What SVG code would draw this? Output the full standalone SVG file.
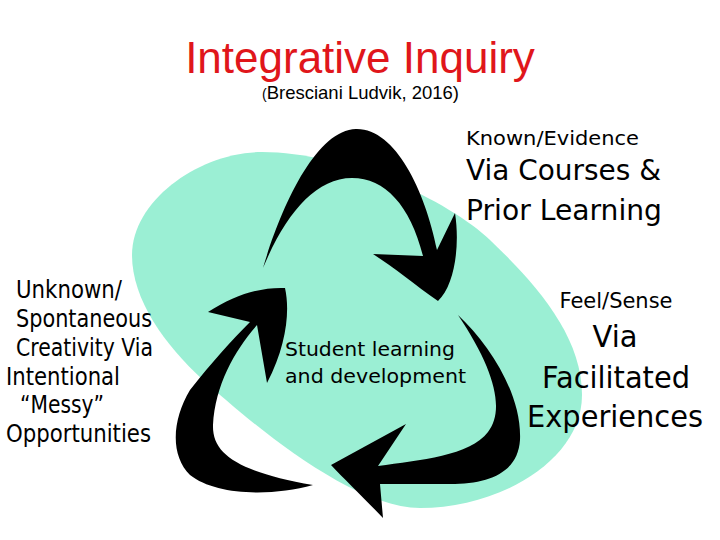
<svg xmlns="http://www.w3.org/2000/svg" width="720" height="540" viewBox="0 0 720 540">
<style>
.t{font-family:"DejaVu Sans","Liberation Sans",sans-serif;fill:#000}
.ttl{font-family:"Liberation Sans",Arial,sans-serif}
.arr{fill:#000;stroke:none}
</style>
<rect width="720" height="540" fill="#fff"/>
<g id="blob">
<path d="M262,152 C345,152 448,200 490,240 C535,283 582,335 582,395 C582,460 500,508 420,508 C350,508 248,420 203,380 C165,345 132,300 132,255 C132,200 200,152 262,152 Z" fill="#9BEFD4"/>
</g>
<g id="title">
<text class="ttl" x="360" y="73" font-size="44" fill="#E0161B" text-anchor="middle">Integrative Inquiry</text>
<text class="ttl" x="262" y="99" font-size="18.5" fill="#000"><tspan font-size="14">(</tspan>Bresciani Ludvik, 2016)</text>
</g>
<g id="connectors">
<path class="arr" d="M263,268 C280,210 315,130 356,129 C395,128 425,190 437,250 L455,213 C460,245 455,285 438,301 C415,285 395,268 373,254 L423,256 C410,205 385,178 352,178 C315,178 285,215 263,268 Z"/>
<path class="arr" d="M458,315 C490,345 522,395 520,440 C518,472 490,484 450,484 L380,484 L383,518 C365,499 345,480 331,465 L406,424 L378,466 C420,460 470,456 488,432 C505,410 495,370 458,315 Z"/>
<path class="arr" d="M313,485 C270,497 215,495 190,475 C170,455 172,420 190,390 C212,362 232,340 250,322 L208,312 C235,295 260,287 285,288 C290,310 287,345 267,383 L257,325 C235,350 215,385 213,425 C212,455 240,472 313,485 Z"/>
</g>
<g id="center">
<text class="t" x="285" y="355.5" font-size="20" textLength="170" lengthAdjust="spacingAndGlyphs">Student learning</text>
<text class="t" x="285" y="382.5" font-size="20" textLength="181" lengthAdjust="spacingAndGlyphs">and development</text>
</g>
<g id="known">
<text class="t" x="466" y="145" font-size="20" textLength="173" lengthAdjust="spacingAndGlyphs">Known/Evidence</text>
<text class="t" x="466" y="180" font-size="28.5" textLength="195" lengthAdjust="spacingAndGlyphs">Via Courses &amp;</text>
<text class="t" x="466" y="219.5" font-size="28.5" textLength="196" lengthAdjust="spacingAndGlyphs">Prior Learning</text>
</g>
<g id="feel">
<text class="t" x="616" y="308" font-size="20.5" text-anchor="middle" textLength="113" lengthAdjust="spacingAndGlyphs">Feel/Sense</text>
<text class="t" x="615" y="347" font-size="31" text-anchor="middle" textLength="45" lengthAdjust="spacingAndGlyphs">Via</text>
<text class="t" x="616" y="388" font-size="31" text-anchor="middle" textLength="148" lengthAdjust="spacingAndGlyphs">Facilitated</text>
<text class="t" x="615" y="427" font-size="31" text-anchor="middle" textLength="176" lengthAdjust="spacingAndGlyphs">Experiences</text>
</g>
<g id="unknown">
<text class="t" x="16" y="298" font-size="24" textLength="106" lengthAdjust="spacingAndGlyphs">Unknown/</text>
<text class="t" x="16" y="327" font-size="24" textLength="136" lengthAdjust="spacingAndGlyphs">Spontaneous</text>
<text class="t" x="16" y="356" font-size="24" textLength="137" lengthAdjust="spacingAndGlyphs">Creativity Via</text>
<text class="t" x="6" y="384.5" font-size="24" textLength="114" lengthAdjust="spacingAndGlyphs">Intentional</text>
<text class="t" x="20" y="413" font-size="24" textLength="84" lengthAdjust="spacingAndGlyphs">“Messy”</text>
<text class="t" x="6" y="441.5" font-size="24" textLength="145" lengthAdjust="spacingAndGlyphs">Opportunities</text>
</g>
</svg>
